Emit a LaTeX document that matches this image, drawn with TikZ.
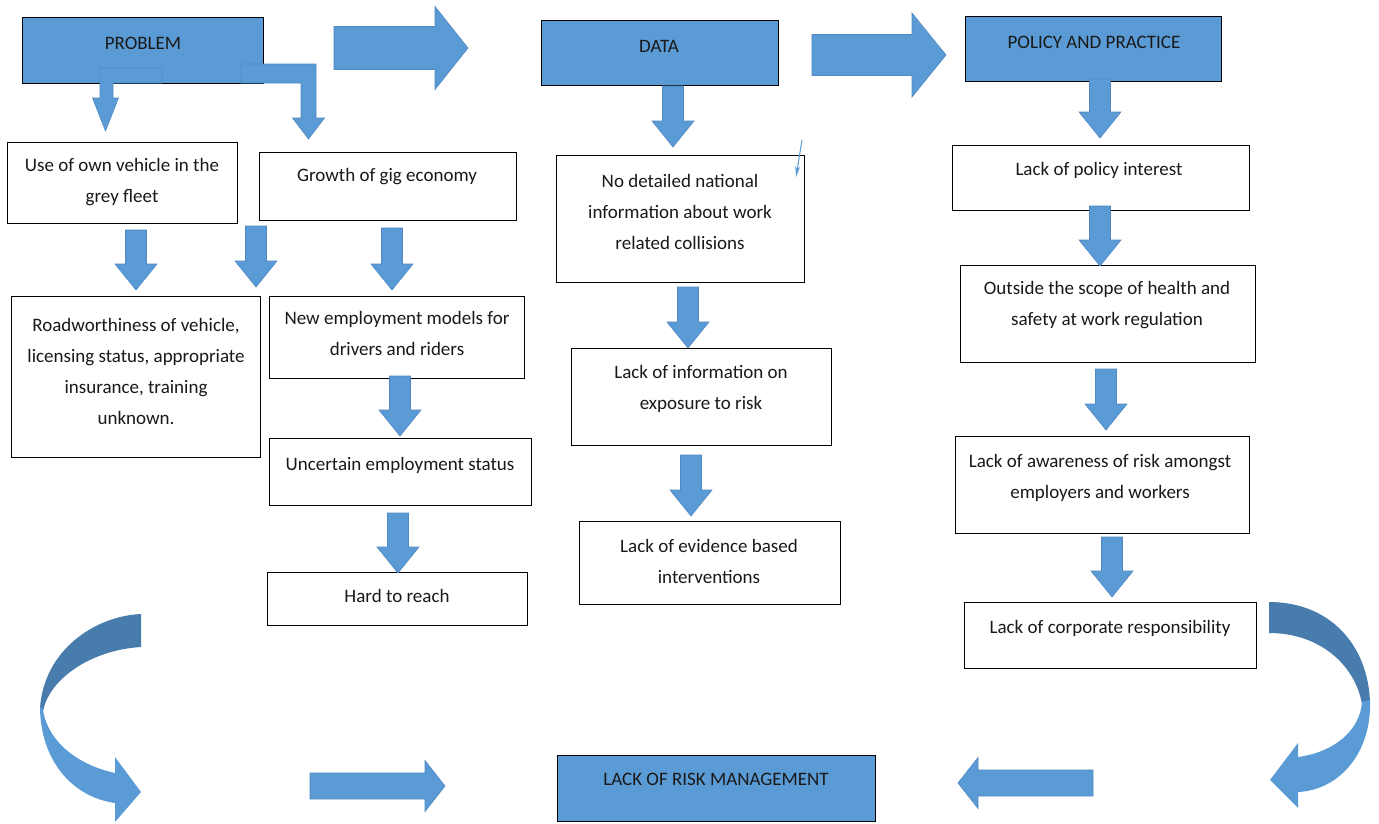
\documentclass[tikz,border=0pt]{standalone}
\usepackage{fontspec}
\setmainfont{Carlito}
\usetikzlibrary{arrows.meta}
\definecolor{blk}{HTML}{5B9BD5}
\definecolor{blkedge}{HTML}{5089C2}
\definecolor{blkdark}{HTML}{487CAD}
\tikzset{
  box/.style={draw=black, line width=0.9pt, fill=white, inner sep=0pt, outer sep=0pt, anchor=north west},
  bluebox/.style={box, fill=blk},
  txt/.style={font=\fontsize{19}{31}\selectfont, align=center, inner sep=0pt, text=black!90, yshift=-2pt},
  blockarrow/.style={fill=blk, draw=blkedge, line width=0.6pt, line join=miter},
}
% box: style, x, y, w, h, name
\newcommand\tb[6]{\node[#1, minimum width=#4pt, minimum height=#5pt] (#6) at (#2,#3) {};}
% down arrow: cx, top, tip
\newcommand\darr[3]{\draw[blockarrow] ({#1-10.5},#2) -- ({#1+10.5},#2) -- ({#1+10.5},{#3-26}) -- ({#1+21},{#3-26}) -- (#1,#3) -- ({#1-21},{#3-26}) -- ({#1-10.5},{#3-26}) -- cycle;}
% horizontal arrow: x1 (tail), x2 (tip), cy, shaft half, head half, head length (signed)
\newcommand\harr[6]{\draw[blockarrow] (#1,{#3-#4}) -- ({#2-#6},{#3-#4}) -- ({#2-#6},{#3-#5}) -- (#2,#3) -- ({#2-#6},{#3+#5}) -- ({#2-#6},{#3+#4}) -- (#1,{#3+#4}) -- cycle;}
\begin{document}
\begin{tikzpicture}[x=1pt,y=-1pt]
\useasboundingbox (0,0) rectangle (1379,823);
% header boxes
\tb{bluebox}{22}{17}{241}{66}{prob}
\tb{bluebox}{541}{20}{237}{65}{data}
\tb{bluebox}{965}{16}{256}{65}{pol}
\node[txt] (prob-t) at (143,41) {PROBLEM};
\node[txt] (data-t) at (659,44) {DATA};
\node[txt] (pol-t) at (1094,40) {POLICY AND PRACTICE};
% problem column
\tb{box}{7}{142}{230}{81}{own}
\tb{box}{259}{152}{257}{68}{gig}
\tb{box}{11}{296}{249}{161}{road}
\tb{box}{269}{296}{255}{82}{newemp}
\tb{box}{269}{438}{262}{67}{uncert}
\tb{box}{267}{572}{260}{53}{hard}
\node[txt] (own-t) at (122,180.5) {Use of own vehicle in the\\grey fleet};
\node[txt] (gig-t) at (387,175) {Growth of gig economy};
\node[txt] (road-t) at (136,369) {Roadworthiness of vehicle,\\licensing status, appropriate\\insurance, training\\unknown.};
\node[txt] (newemp-t) at (397,331.5) {New employment models for\\drivers and riders};
\node[txt] (uncert-t) at (400,463) {Uncertain employment status};
\node[txt] (hard-t) at (397,594) {Hard to reach};
% data column
\tb{box}{556}{155}{248}{127}{nodet}
\tb{box}{571}{348}{260}{97}{info}
\tb{box}{579}{521}{261}{83}{evid}
\node[txt] (nodet-t) at (680,209.5) {No detailed national\\information about work\\related collisions};
\node[txt] (info-t) at (701,386.5) {Lack of information on\\exposure to risk};
\node[txt] (evid-t) at (709,559.5) {Lack of evidence based\\interventions};
% policy column
\tb{box}{952}{145}{297}{65}{polint}
\tb{box}{960}{265}{295}{97}{outside}
\tb{box}{955}{436}{294}{97}{aware}
\tb{box}{964}{602}{292}{66}{corp}
\node[txt] (polint-t) at (1099,168) {Lack of policy interest};
\node[txt] (outside-t) at (1107,303.5) {Outside the scope of health and\\safety at work regulation};
\node[txt] (aware-t) at (1100,475.5) {Lack of awareness of risk amongst\\employers and workers};
\node[txt] (corp-t) at (1110,626) {Lack of corporate responsibility};
% bottom box
\tb{bluebox}{557}{755}{318}{66}{lrm}
\node[txt] (lrm-t) at (716,777) {LACK OF RISK MANAGEMENT};
% big right arrows
\harr{334}{468}{48}{21.5}{41.5}{33}
\harr{812}{946}{55}{20.5}{42}{34}
% bottom straight arrows
\harr{310}{445}{786}{13}{25.5}{20}
\harr{1093}{958}{783}{13}{25.5}{-20}
% bent arrows from PROBLEM
\draw[blockarrow] (162,68) -- (162,83) -- (113,83) -- (113,98) -- (118.5,98) -- (105.5,131) -- (92.5,98) -- (100,98) -- (100,68) -- cycle;
\draw[blockarrow] (241,64) -- (316,64) -- (316,118) -- (324.5,118) -- (308.5,139) -- (292.5,118) -- (301,118) -- (301,83) -- (241,83) -- cycle;
% down arrows
\darr{136}{230}{290}
\darr{256}{226}{287}
\darr{392}{228}{290}
\darr{400}{376}{436}
\darr{398}{513}{573}
\darr{673}{86}{147}
\darr{688}{287}{348}
\darr{691}{455}{516}
\darr{1100}{79}{138}
\darr{1100}{206}{266}
\darr{1106}{369}{430}
\darr{1112}{537}{597}
% thin arrow near data box
\draw[blk, line width=1pt, -{Stealth[length=11pt,width=5pt]}] (802,140) -- (796,177);
% curved arrow left
\fill[blkdark] (141,614) .. controls (95,616) and (44,650) .. (40,708) -- (43,712) .. controls (48,680) and (90,650) .. (141,647) -- cycle;
\fill[blk] (40,706) .. controls (40,760) and (72,797) .. (115,803) -- (115,822) -- (141,792) -- (115,757) -- (115,773) .. controls (78,765) and (48,742) .. (43,710) -- cycle;
% curved arrow right
\fill[blkdark] (1269,602) .. controls (1330,602) and (1368,645) .. (1370,702) -- (1362,704) .. controls (1355,665) and (1320,633) .. (1269,633) -- cycle;
\fill[blk] (1370,700) .. controls (1372,752) and (1340,790) .. (1298,792) -- (1298,808) -- (1270,780) -- (1298,743) -- (1298,757) .. controls (1335,752) and (1360,730) .. (1362,702) -- cycle;
\end{tikzpicture}
\end{document}
